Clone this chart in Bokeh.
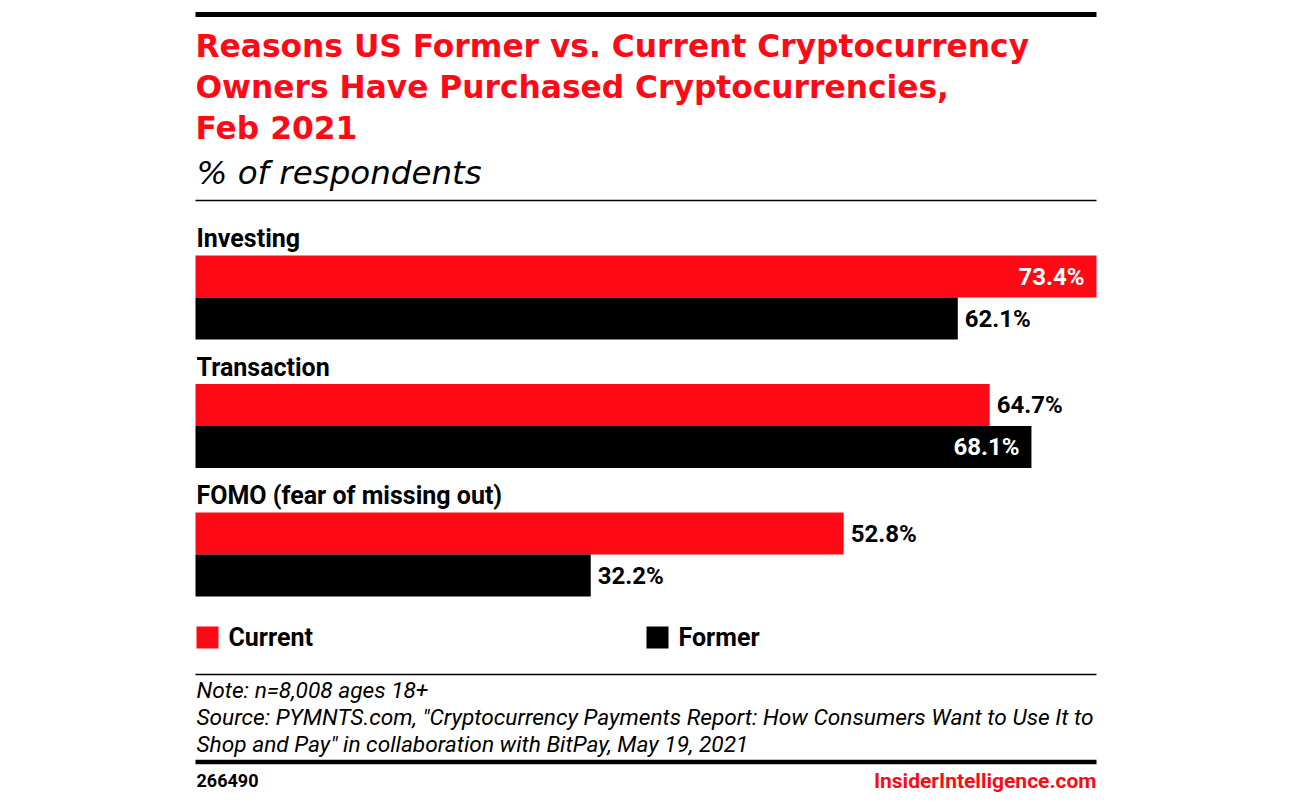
from bokeh.plotting import figure
from bokeh.models import ColumnDataSource, Range1d
from bokeh.core.properties import value
from bokeh.embed import file_html
from bokeh.resources import INLINE

# ---- data ----
categories = ["Investing", "Transaction", "FOMO (fear of missing out)"]
current = [73.4, 64.7, 52.8]
former = [62.1, 68.1, 32.2]
series_names = ["Current", "Former"]
title_lines = ["Reasons US Former vs. Current Cryptocurrency",
               "Owners Have Purchased Cryptocurrencies,",
               "Feb 2021"]
subtitle = "% of respondents"
note_lines = ["Note: n=8,008 ages 18+",
              "Source: PYMNTS.com, \"Cryptocurrency Payments Report: How Consumers Want to Use It to",
              "Shop and Pay\" in collaboration with BitPay, May 19, 2021"]
chart_id = "266490"
brand = "InsiderIntelligence.com"

# ---- style ----
RED = "#FE0A17"
BLACK = "#000000"
FONT = "Roboto"
TFONT = "DejaVu Sans"
W, H = 1290, 795
LEFT, RIGHT = 195, 1096          # plot area in page pixels
VMAX = 73.4
scale = (RIGHT - LEFT) / VMAX
x0 = (0 - LEFT) / scale
x1 = (W - LEFT) / scale

p = figure(width=W, height=H, output_backend="svg", toolbar_location=None,
           x_range=Range1d(x0, x1), y_range=Range1d(H, 0),
           x_axis_location=None, y_axis_location=None, min_border=0,
           title_location=None, outline_line_color=None,
           background_fill_color="white", border_fill_color="white")
p.extra_x_ranges = {"px": Range1d(0, W)}
p.xgrid.visible = False
p.ygrid.visible = False

# ---- bars ----
GROUP0, GROUP_STEP, BAR_H = 255, 128.5, 42
n = len(categories)
tops = [GROUP0 + i * GROUP_STEP for i in range(n)]
cur_y = [t + BAR_H / 2 for t in tops]
for_y = [t + BAR_H * 1.5 for t in tops]

p.hbar(y=cur_y, left=0, right=current, height=BAR_H, fill_color=RED, line_color=None)
p.hbar(y=for_y, left=0, right=former, height=BAR_H, fill_color=BLACK, line_color=None)

# value labels
THRESH = 66
def label_src(vals, ys):
    inside = [v >= THRESH for v in vals]
    return ColumnDataSource(dict(
        x=vals, y=ys,
        text=[f"{v:.1f}%" for v in vals],
        xo=[-12 if i else 7 for i in inside],
        align=["right" if i else "left" for i in inside],
        color=["white" if i else "black" for i in inside]))

for vals, ys in [(current, cur_y), (former, for_y)]:
    src = label_src(vals, ys)
    p.text(x="x", y="y", text="text", x_offset="xo", text_align="align",
           text_color="color", source=src, text_font=value(FONT),
           text_font_style="bold", text_font_size="24px", text_baseline="middle")

# category labels
p.text(x=[LEFT + 1] * n, y=[t - 17 for t in tops], text=categories, x_range_name="px",
       text_font=value(FONT), text_font_style="bold", text_font_size="25px",
       text_color="black", text_baseline="middle")

# ---- title / subtitle ----
p.text(x=[LEFT] * 3, y=[45, 86, 127], text=title_lines, x_range_name="px",
       text_font=value(TFONT), text_font_style="bold", text_font_size="31.3px",
       text_color=RED, text_baseline="middle")
p.text(x=[LEFT + 1], y=[172], text=[subtitle], x_range_name="px",
       text_font=value(TFONT), text_font_style="italic", text_font_size="32.5px",
       text_color="black", text_baseline="middle")

# ---- rules ----
p.segment(x0=[LEFT] * 4, x1=[RIGHT] * 4, y0=[14, 200, 674, 761.5],
          y1=[14, 200, 674, 761.5], line_width=[5, 1.5, 1.5, 4.5], line_color="black",
          x_range_name="px")

# ---- legend ----
p.rect(x=[207, 657], y=[637, 637], width=22, height=22, fill_color=[RED, BLACK],
       line_color=None, x_range_name="px")
p.text(x=[228, 678], y=[637, 637], text=series_names, x_range_name="px",
       text_font=value(FONT), text_font_style="bold", text_font_size="25px",
       text_color="black", text_baseline="middle")

# ---- notes ----
p.text(x=[LEFT + 1] * 3, y=[690, 717, 744], text=note_lines, x_range_name="px",
       text_font=value(FONT), text_font_style="italic", text_font_size="22.7px",
       text_color="black", text_baseline="middle")

# ---- footer ----
p.text(x=[LEFT + 1], y=[780], text=[chart_id], x_range_name="px",
       text_font=value(FONT), text_font_style="bold", text_font_size="18px",
       text_color="black", text_baseline="middle")
p.text(x=[RIGHT], y=[780], text=[brand], x_range_name="px", text_align="right",
       text_font=value(FONT), text_font_size="21px", text_font_style="bold",
       text_color=RED, text_baseline="middle")

open("out.html", "w").write(file_html(p, INLINE))
